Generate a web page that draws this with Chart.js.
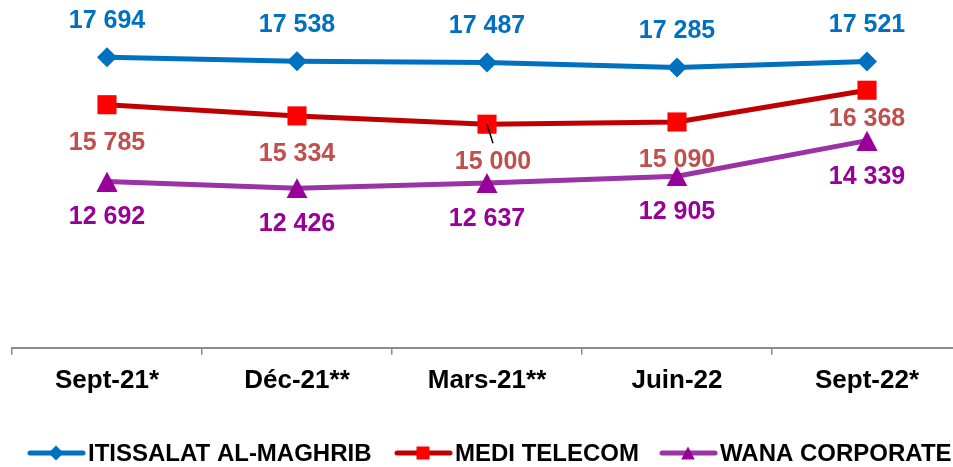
<!DOCTYPE html>
<html>
<head>
<meta charset="utf-8">
<script src="https://cdn.jsdelivr.net/npm/chart.js@4/dist/chart.umd.min.js"></script>
<style>
  html, body { margin: 0; padding: 0; background: #fff; overflow: hidden; }
  #wrap { width: 953px; height: 467px; overflow: hidden; position: relative; }
  canvas { position: absolute; left: 0; top: 0; }
</style>
</head>
<body>
<div id="wrap"><canvas id="myChart" width="975" height="467"></canvas></div>
<script>
let periods = ['Sept-21*', 'Déc-21**', 'Mars-21**', 'Juin-22', 'Sept-22*']
let iam = [17694, 17538, 17487, 17285, 17521]
let medi = [15785, 15334, 15000, 15090, 16368]
let wana = [12692, 12426, 12637, 12905, 14339]
let names = ['ITISSALAT AL-MAGHRIB', 'MEDI TELECOM', 'WANA CORPORATE']

const FONT = '"Liberation Sans", Arial, sans-serif'

// colours: line, marker, value label
let styles = [
  { line: '#0070C0', mark: '#0070C0', text: '#0070C0', shape: 'rectRot', r: 10, dy: -36 },
  { line: '#C00000', mark: '#FF0000', text: '#C0504D', shape: 'rect', r: 13.5, dy: 38 },
  { line: '#9933A6', mark: '#990099', text: '#990099', shape: 'triangle', r: 11.5, dy: 36 }
]

function fmt(v){
  return String(v).replace(/\B(?=(\d{3})+(?!\d))/g, ' ')
}

function drawMark(ctx, shape, x, y, s){
  ctx.beginPath()
  if(shape == 'rectRot'){
    ctx.moveTo(x - s, y); ctx.lineTo(x, y - s); ctx.lineTo(x + s, y); ctx.lineTo(x, y + s)
  } else if(shape == 'rect'){
    ctx.rect(x - s, y - s, 2 * s, 2 * s)
  } else {
    // triangle centred on its bounding box, like the office marker
    ctx.moveTo(x, y - s); ctx.lineTo(x + s * 1.05, y + s); ctx.lineTo(x - s * 1.05, y + s)
  }
  ctx.closePath()
  ctx.fill()
}

// triangle marker as an image so it sits centred on the point
let triImg = document.createElement('canvas')
triImg.width = 22
triImg.height = 20
let tctx = triImg.getContext('2d')
tctx.fillStyle = styles[2].mark
drawMark(tctx, 'triangle', 11, 10, 10)

// value labels under / over the points
const valueLabels = {
  id: 'valueLabels',
  afterDatasetsDraw(chart){
    const ctx = chart.ctx
    ctx.save()
    ctx.font = 'bold 25px ' + FONT
    ctx.textAlign = 'center'
    ctx.textBaseline = 'middle'
    chart.data.datasets.forEach((ds, i) => {
      const meta = chart.getDatasetMeta(i)
      meta.data.forEach((pt, j) => {
        let dx = 0, dy = styles[i].dy
        if(i == 1 && j == 2){
          dx = 6
          ctx.strokeStyle = '#000'
          ctx.lineWidth = 1.5
          ctx.beginPath()
          ctx.moveTo(pt.x, pt.y)
          ctx.lineTo(pt.x + 6, pt.y + 19)
          ctx.stroke()
        }
        if(i == 1 && j == 4) dy = 29
        ctx.fillStyle = styles[i].text
        ctx.fillText(fmt(ds.data[j]), pt.x + dx, pt.y + dy)
      })
    })
    ctx.restore()
  }
}

// legend at the bottom, line + marker like the original
const bottomLegend = {
  id: 'bottomLegend',
  afterDraw(chart){
    const ctx = chart.ctx
    const starts = [28, 395, 660]
    const y = 453
    ctx.save()
    ctx.font = 'bold 24px ' + FONT
    ctx.textBaseline = 'middle'
    ctx.textAlign = 'left'
    names.forEach((n, i) => {
      const x0 = starts[i]
      ctx.strokeStyle = styles[i].line
      ctx.lineWidth = 5
      ctx.lineCap = 'round'
      ctx.beginPath()
      ctx.moveTo(x0 + 2, y)
      ctx.lineTo(x0 + 55, y)
      ctx.stroke()
      ctx.fillStyle = styles[i].mark
      let s = i == 0 ? 7.5 : i == 1 ? 6.5 : 6.5
      drawMark(ctx, styles[i].shape, x0 + 28, y, s)
      ctx.fillStyle = '#000'
      ctx.fillText(n, x0 + 60, y + 1)
    })
    ctx.restore()
  }
}

let series = [iam, medi, wana]
let datasets = series.map((d, i) => ({
  label: names[i],
  data: d,
  borderColor: styles[i].line,
  borderWidth: 5,
  backgroundColor: styles[i].mark,
  pointBackgroundColor: styles[i].mark,
  pointBorderColor: styles[i].mark,
  pointBorderWidth: 0,
  pointStyle: i == 2 ? triImg : styles[i].shape,
  pointRadius: styles[i].r,
  tension: 0,
  clip: false
}))

const ctx = document.getElementById('myChart')
new Chart(ctx, {
  type: 'line',
  data: { labels: periods, datasets: datasets },
  options: {
    responsive: false,
    animation: false,
    layout: { autoPadding: false, padding: { left: 12, right: 13, top: 0, bottom: 61 } },
    scales: {
      x: {
        offset: true,
        grid: { offset: true, drawOnChartArea: false, tickLength: 7, color: '#8c8c8c', lineWidth: 1.5 },
        border: { color: '#8c8c8c', width: 2 },
        ticks: { color: '#000', font: { family: FONT, size: 26, weight: 'bold' }, padding: 10, maxRotation: 0 }
      },
      y: { display: false, min: 6000, max: 20000 }
    },
    plugins: { legend: { display: false }, tooltip: { enabled: false } }
  },
  plugins: [valueLabels, bottomLegend]
})
</script>
</body>
</html>
